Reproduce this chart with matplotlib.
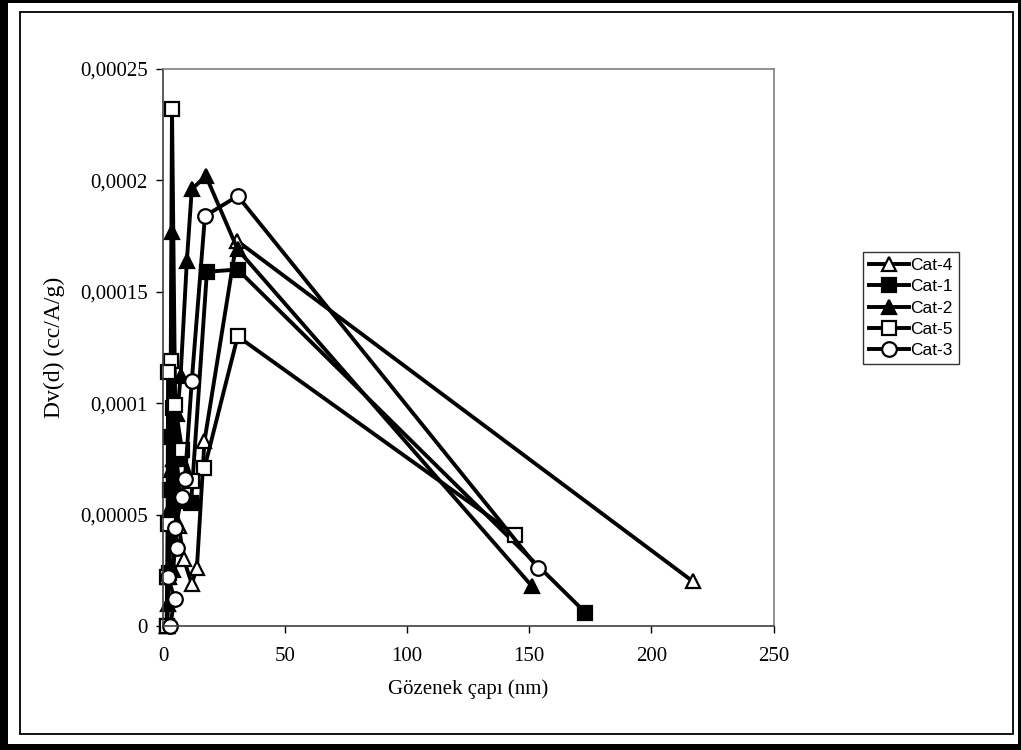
import matplotlib
matplotlib.use('Agg')
import matplotlib.pyplot as plt
from matplotlib.patches import Rectangle
from matplotlib.ticker import FuncFormatter

# pore size distributions (nm, cc/A/g)
cat4_x = [217, 30.2, 17, 13.9, 11.8, 8.5, 6.5, 5.0, 4.0, 3.2, 2.5, 2.0, 1.7]
cat4_y = [2.0e-5, 1.73e-4, 8.3e-5, 2.6e-5, 1.9e-5, 3.0e-5, 4.5e-5, 6.0e-5, 7.5e-5, 8.9e-5, 5.0e-5, 2.5e-5, 0]

cat1_x = [173, 30.6, 18, 11.5, 7.5, 5.5, 4.3, 3.5, 2.9, 2.4, 2.0, 1.7]
cat1_y = [6.0e-6, 1.6e-4, 1.59e-4, 5.5e-5, 5.6e-5, 7.5e-5, 9.8e-5, 8.5e-5, 6.1e-5, 2.4e-5, 2.2e-5, 0]

cat2_x = [151, 30.6, 17.6, 11.8, 9.8, 7.2, 5.9, 4.9, 4.2, 3.7, 3.2, 2.7, 2.3, 2.0, 1.7]
cat2_y = [1.8e-5, 1.69e-4, 2.02e-4, 1.96e-4, 1.64e-4, 1.12e-4, 9.5e-5, 3.8e-5, 2.5e-5,
          1.77e-4, 7.0e-5, 5.3e-5, 2.2e-5, 1.0e-5, 0]

cat5_x = [144, 30.6, 17, 12, 7.8, 5.0, 3.7, 3.2, 2.1, 1.9, 1.7, 1.5]
cat5_y = [4.1e-5, 1.3e-4, 7.1e-5, 6.5e-5, 7.9e-5, 9.9e-5, 2.32e-4, 1.19e-4, 1.14e-4, 4.6e-5, 2.2e-5, 0]

cat3_x = [153.6, 30.6, 17.2, 11.8, 9.0, 7.8, 5.0, 5.8, 2.1, 4.8, 2.9]
cat3_y = [2.6e-5, 1.93e-4, 1.84e-4, 1.1e-4, 6.6e-5, 5.8e-5, 4.4e-5, 3.5e-5, 2.2e-5, 1.2e-5, 0]

series = [('Cat-4', cat4_x, cat4_y, '^', 'white'),
          ('Cat-1', cat1_x, cat1_y, 's', 'black'),
          ('Cat-2', cat2_x, cat2_y, '^', 'black'),
          ('Cat-5', cat5_x, cat5_y, 's', 'white'),
          ('Cat-3', cat3_x, cat3_y, 'o', 'white')]

fig = plt.figure(figsize=(10.21, 7.5), dpi=100, facecolor='black')
# white page inside the thick black border
fig.patches.append(Rectangle((8 / 1021, 6 / 750), 1010 / 1021, 741 / 750,
                             transform=fig.transFigure, fc='white', ec='none', zorder=-2))
# thin inner frame
fig.patches.append(Rectangle((20 / 1021, 16 / 750), 993 / 1021, 722 / 750,
                             transform=fig.transFigure, fill=False, lw=1.3, ec='black', zorder=-1))

ax = fig.add_axes([0.1596, 0.1653, 0.598, 0.7427])

for name, xs, ys, m, fc in series:
    ax.plot(xs, ys, color='black', lw=2.8, marker=m, markersize=10.5,
            markerfacecolor=fc, markeredgecolor='black', markeredgewidth=1.6,
            label=name, clip_on=False)

ax.set_xlim(0, 250)
ax.set_ylim(0, 0.00025)
ax.set_xticks([0, 50, 100, 150, 200, 250])
ax.set_yticks([0, 0.00005, 0.0001, 0.00015, 0.0002, 0.00025])
ax.yaxis.set_major_formatter(FuncFormatter(
    lambda v, p: '0' if v == 0 else ('%g' % v if v >= 1e-4 else '%.5f' % v).replace('.', ',')))

serif = 'Liberation Serif'
for lab in ax.get_xticklabels() + ax.get_yticklabels():
    lab.set_fontfamily(serif)
    lab.set_fontsize(15)
ax.tick_params(axis='x', direction='out', length=5, width=1, color='black', pad=10)
ax.tick_params(axis='y', direction='out', length=5, width=1, color='black', pad=6)

for s in ['top', 'right']:
    ax.spines[s].set_color('#808080')
for s in ['left', 'bottom']:
    ax.spines[s].set_color('#404040')
for s in ax.spines.values():
    s.set_linewidth(1.2)

ax.set_xlabel('Gözenek çapı (nm)', family=serif, fontsize=15, labelpad=10)
ax.set_ylabel('Dv(d) (cc/A/g)', family=serif, fontsize=17, labelpad=11)

leg = fig.legend(loc='upper left', bbox_to_anchor=(0.845, 0.664), borderaxespad=0,
                 frameon=True, fancybox=False, edgecolor='black', handlelength=2.3,
                 handletextpad=0.1, borderpad=0.35, labelspacing=0.35,
                 prop={'family': 'Liberation Sans', 'size': 12.5})
leg.get_frame().set_linewidth(1.0)

fig.savefig('out.png', dpi=100, facecolor='black')
